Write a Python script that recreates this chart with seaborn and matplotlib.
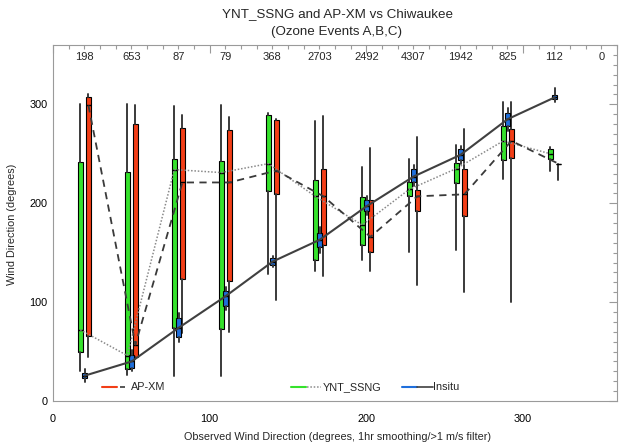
import matplotlib
matplotlib.use("Agg")
import matplotlib.pyplot as plt
import seaborn as sns
import pandas as pd
from matplotlib.ticker import MultipleLocator
from matplotlib.lines import Line2D

# ---------------- data ----------------
centers = [20, 50, 80, 110, 140, 170, 200, 230, 260, 290, 320]
count_x = [20, 50, 80, 110, 140, 170, 200, 230, 260, 290, 320, 350]
counts = [198, 653, 87, 79, 368, 2703, 2492, 4307, 1942, 825, 112, 0]

# box statistics: whislo, q1, med, q3, whishi
ynt_lo = [30, 26, 25, 25, 128, 131, 143, 151, 153, 224, 233]
ynt_q1 = [50, 32, 74, 73, 212, 143, 158, 207, 220, 244, 245]
ynt_med = [72, 46, 234, 231, 240, 207, 178, 214, 235, 263, 250]
ynt_q3 = [242, 232, 245, 243, 289, 223, 206, 221, 241, 278, 255]
ynt_hi = [300, 300, 298, 299, 291, 283, 237, 245, 259, 302, 257]

apx_lo = [45, 42, 69, 70, 102, 126, 131, 117, 110, 100, 223]
apx_q1 = [66, 44, 123, 121, 209, 158, 151, 192, 187, 246, 240]
apx_med = [299, 57, 221, 221, 233, 207, 166, 207, 209, 263, 240]
apx_q3 = [307, 280, 276, 274, 284, 235, 203, 213, 235, 275, 240]
apx_hi = [310, 299, 289, 287, 285, 288, 256, 267, 275, 302, 240]

ins_lo = [19, 30, 60, 92, 136, 150, 188, 217, 240, 273, 302]
ins_q1 = [23, 33, 65, 96, 138, 156, 192, 221, 244, 278, 305]
ins_med = [25.6, 40, 74, 106, 141, 163, 197, 227, 249, 285, 307]
ins_q3 = [28, 47, 84, 111, 145, 170, 203, 235, 255, 291, 309]
ins_hi = [32, 52, 89, 115, 147, 176, 207, 239, 258, 296, 317]

title1 = "YNT_SSNG and AP-XM vs Chiwaukee"
title2 = "(Ozone Events A,B,C)"
xlabel = "Observed Wind Direction (degrees, 1hr smoothing/>1 m/s filter)"
ylabel = "Wind Direction (degrees)"

GREEN = "#35e22c"
RED = "#f23e17"
BLUE = "#1f6fdc"

# ---------------- style ----------------
sns.set_style("white")
plt.rcParams["font.family"] = ["Liberation Sans", "DejaVu Sans"]

fig = plt.figure(figsize=(6.2, 4.46), dpi=100)
ax = fig.add_axes([53 / 620, 45 / 446, 564 / 620, 356 / 446])


def mkstats(lo, q1, med, q3, hi):
    return [dict(whislo=a, q1=b, med=c, q3=d, whishi=e, fliers=[])
            for a, b, c, d, e in zip(lo, q1, med, q3, hi)]


groups = [
    (mkstats(ynt_lo, ynt_q1, ynt_med, ynt_q3, ynt_hi), -2.6, GREEN),
    (mkstats(apx_lo, apx_q1, apx_med, apx_q3, apx_hi), 2.6, RED),
    (mkstats(ins_lo, ins_q1, ins_med, ins_q3, ins_hi), 0.2, BLUE),
]
for st, off, col in groups:
    ax.bxp(st, positions=[c + off for c in centers], widths=2.9,
           patch_artist=True, showcaps=False, showfliers=False,
           boxprops=dict(facecolor=col, edgecolor="black", linewidth=0.8),
           medianprops=dict(color="black", linewidth=1.0),
           whiskerprops=dict(color="#3a3a3a", linewidth=1.4),
           manage_ticks=False)

# median connecting lines
df_ins = pd.DataFrame({"x": [c + 0.2 for c in centers], "y": ins_med})
df_ynt = pd.DataFrame({"x": [c - 2.6 for c in centers], "y": ynt_med})
df_apx = pd.DataFrame({"x": [c + 2.6 for c in centers], "y": apx_med})
sns.lineplot(data=df_ynt, x="x", y="y", ax=ax, color="#8a8a8a", lw=1.1,
             linestyle=(0, (1, 1.2)), legend=False, zorder=5)
sns.lineplot(data=df_apx, x="x", y="y", ax=ax, color="#3a3a3a", lw=1.3,
             linestyle=(0, (4, 3)), legend=False, zorder=5)
sns.lineplot(data=df_ins, x="x", y="y", ax=ax, color="#404040", lw=1.5,
             linestyle="-", legend=False, zorder=5)

# ---------------- axes ----------------
ax.set_xlim(0, 360)
ax.set_ylim(0, 360)
ax.xaxis.set_major_locator(MultipleLocator(100))
ax.xaxis.set_minor_locator(MultipleLocator(10))
ax.yaxis.set_major_locator(MultipleLocator(100))
ax.yaxis.set_minor_locator(MultipleLocator(10))
ax.set_xticks([0, 100, 200, 300])
ax.set_yticks([0, 100, 200, 300])
ax.tick_params(which="both", direction="in", top=True, right=True,
               color="#9a9a9a", width=0.8, labelsize=7.8, labelcolor="black")
ax.tick_params(which="major", length=5.8)
ax.tick_params(which="minor", length=2.9)
ax.tick_params(axis="x", pad=9)
ax.tick_params(axis="y", pad=4)
for sp in ax.spines.values():
    sp.set_color("#9a9a9a")
    sp.set_linewidth(0.8)
ax.set_xlabel("")
ax.set_ylabel("")

# counts along the top
for cx, n in zip(count_x, counts):
    ax.text(cx, 0.966, str(n), transform=ax.get_xaxis_transform(),
            ha="center", va="center", fontsize=8)

# custom legend
leg_y = 0.039
tr = ax.transAxes
ax.add_line(Line2D([0.086, 0.113], [leg_y, leg_y], transform=tr, color=RED, lw=1.5))
ax.add_line(Line2D([0.118, 0.132], [leg_y, leg_y], transform=tr, color="#3a3a3a",
                   lw=1.2, linestyle=(0, (3, 3))))
ax.text(0.138, leg_y, "AP-XM", transform=tr, ha="left", va="center", fontsize=7.8)

ax.add_line(Line2D([0.422, 0.449], [leg_y, leg_y], transform=tr, color=GREEN, lw=1.5))
ax.add_line(Line2D([0.451, 0.476], [leg_y, leg_y], transform=tr, color="#8a8a8a",
                   lw=1.1, linestyle=(0, (1, 1.2))))
ax.text(0.478, leg_y, "YNT_SSNG", transform=tr, ha="left", va="center", fontsize=7.8)

ax.add_line(Line2D([0.618, 0.645], [leg_y, leg_y], transform=tr, color=BLUE, lw=1.5))
ax.add_line(Line2D([0.645, 0.673], [leg_y, leg_y], transform=tr, color="#404040", lw=1.2))
ax.text(0.674, leg_y, "Insitu", transform=tr, ha="left", va="center", fontsize=7.8)

# titles / labels
fig.text(337 / 620, 1 - 14 / 446, title1, ha="center", va="center", fontsize=9.6)
fig.text(337 / 620, 1 - 32 / 446, title2, ha="center", va="center", fontsize=9.6)
fig.text(337 / 620, 1 - 437 / 446, xlabel, ha="center", va="center", fontsize=7.8)
fig.text(12 / 620, 1 - 224 / 446, ylabel, ha="center", va="center", fontsize=7.8,
         rotation=90)

fig.savefig("out.png", dpi=100)
